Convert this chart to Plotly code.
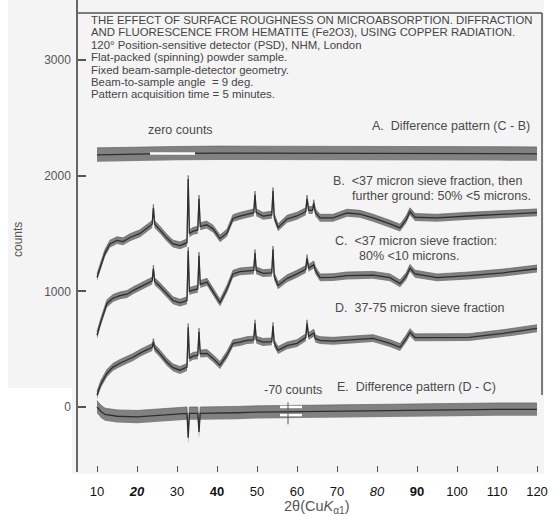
import plotly.graph_objects as go

# ---------------- data ----------------
a_theta = [10, 20, 30, 40, 50, 60, 70, 80, 90, 100, 110, 120]
a_counts = [2180, 2188, 2192, 2195, 2195, 2192, 2195, 2192, 2192, 2192, 2190, 2188]

b_theta = [10, 11, 12, 13.25, 15, 16.5, 18.25, 20.75, 23, 23.8, 24.1, 24.4, 25.5, 27.5, 29, 30.75,
           32.5, 32.8, 33.1, 34, 35.2, 35.5, 35.8, 37.4, 39, 40.75, 42.5, 44, 45.75, 47.5, 49.2, 49.5,
           49.8, 51.5, 53.7, 54, 54.3, 55.25, 57.5, 60, 62.2, 62.5, 62.9, 63.9, 64.2, 64.6, 65.75, 69,
           72.5, 75.75, 79, 83.25, 85.75, 87.3, 88.25, 89.5, 95, 103, 111.5, 120]
b_counts = [1120, 1230, 1330, 1410, 1440, 1430, 1465, 1500, 1560, 1580, 1720, 1580, 1540, 1460, 1410, 1395,
            1420, 1970, 1500, 1520, 1530, 1800, 1560, 1575, 1540, 1455, 1505, 1630, 1650, 1668, 1680, 1835,
            1680, 1650, 1660, 1866, 1640, 1550, 1625, 1651, 1690, 1800, 1700, 1700, 1760, 1680, 1634, 1634,
            1677, 1668, 1634, 1582, 1548, 1620, 1690, 1640, 1634, 1651, 1668, 1680]

c_theta = [10, 11, 12.5, 14, 15.75, 17.5, 19, 21, 23, 23.8, 24.1, 24.4, 25.5, 27.5, 29, 30.75,
           32.5, 32.8, 33.1, 34, 35.2, 35.5, 35.8, 37.5, 39, 40.75, 42.5, 44, 45.75, 47.5, 49.2, 49.5,
           49.8, 51.5, 53.7, 54, 54.3, 55.25, 57.5, 60, 62.2, 62.5, 62.9, 64.2, 64.6, 65.75, 69,
           72.5, 75.75, 79, 83.25, 85.75, 87.3, 88.25, 89.5, 95, 103, 111.5, 120]
c_counts = [620, 740, 895, 940, 963, 975, 1006, 1040, 1075, 1090, 1195, 1085, 1050, 980, 920, 900,
            920, 1350, 1000, 1010, 1020, 1307, 1060, 1080, 1000, 900, 1020, 1150, 1170, 1178, 1180, 1330,
            1180, 1155, 1160, 1360, 1130, 1050, 1110, 1150, 1190, 1285, 1200, 1230, 1180, 1118, 1120,
            1135, 1135, 1140, 1118, 1066, 1130, 1200, 1150, 1118, 1135, 1160, 1195]

d_theta = [10, 11, 12.5, 14, 15.75, 17.5, 19, 21, 23, 23.8, 24.1, 24.4, 25.5, 27.5, 29, 30.75,
           32.5, 32.8, 33.1, 34, 35.2, 35.5, 35.8, 37.5, 39, 40.75, 42.5, 44, 45.75, 47.5, 49.2, 49.5,
           49.8, 51.5, 53.7, 54, 54.3, 55.25, 57.5, 60, 62.2, 62.5, 62.9, 64.2, 64.6, 65.75, 69,
           72.5, 75.75, 79, 83.25, 85.75, 87.3, 88.25, 89.5, 95, 103, 111.5, 120]
d_counts = [103, 200, 292, 345, 378, 405, 430, 470, 505, 516, 560, 510, 470, 387, 340, 318,
            344, 690, 420, 440, 445, 650, 460, 464, 420, 361, 450, 550, 560, 576, 580, 722,
            580, 560, 565, 700, 550, 490, 530, 550, 600, 722, 610, 640, 590, 576, 570,
            576, 585, 593, 550, 516, 590, 645, 600, 602, 602, 636, 679]

e_theta = [10, 11, 12, 15, 20, 25, 30, 32.5, 32.8, 33.1, 35.2, 35.5, 35.8, 40, 45, 50, 60, 70, 80,
           90, 100, 110, 120]
e_counts = [0, -40, -65, -80, -85, -75, -60, -55, -265, -55, -55, -215, -55, -50, -50, -45, -40, -40,
            -35, -30, -25, -20, -20]

x_tick_vals = [10, 20, 30, 40, 50, 60, 70, 80, 90, 100, 110, 120]
x_tick_text = ["10", "<b><i>20</i></b>", "30", "<b>40</b>", "50", "60", "70", "<i>80</i>",
               "<b>90</b>", "100", "110", "120"]
y_tick_vals = [0, 1000, 2000, 3000]

zero_marker_theta = [23.25, 34.5]
zero_marker_counts = [2192, 2192]
minus70_marker_theta = [55.75, 61.25]
minus70_levels = [0, -70]

title_lines = [
    "THE EFFECT OF SURFACE ROUGHNESS ON MICROABSORPTION. DIFFRACTION",
    "AND FLUORESCENCE FROM HEMATITE (Fe2O3), USING COPPER RADIATION.",
    "120\u00b0 Position-sensitive detector (PSD), NHM, London",
    "Flat-packed (spinning) powder sample.",
    "Fixed beam-sample-detector geometry.",
    "Beam-to-sample angle  = 9 deg.",
    "Pattern acquisition time = 5 minutes.",
]

# ---------------- layout geometry ----------------
W, H = 554, 516
L, R, T, B = 78, 0, 0, 44
PW, PH = W - L - R, H - T - B


def px(x):
    return (x - L) / PW


def py(y):
    return (H - B - y) / PH


FONT = "Liberation Sans, Arial, sans-serif"
fig = go.Figure()

series = [
    (a_theta, a_counts, 60),
    (b_theta, b_counts, 32),
    (c_theta, c_counts, 32),
    (d_theta, d_counts, 32),
    (e_theta, e_counts, 55),
]
for th, ct, hw in series:
    fig.add_trace(go.Scatter(x=th, y=[v - hw for v in ct], mode="lines",
                             line=dict(width=0, color="rgba(0,0,0,0)"), hoverinfo="skip",
                             showlegend=False))
    fig.add_trace(go.Scatter(x=th, y=[v + hw for v in ct], mode="lines", fill="tonexty",
                             fillcolor="rgba(85,85,85,0.72)",
                             line=dict(width=0.8, color="rgba(90,90,90,0.8)"), hoverinfo="skip",
                             showlegend=False))
    fig.add_trace(go.Scatter(x=th, y=ct, mode="lines", line=dict(width=1.3, color="#2e2e2e"),
                             showlegend=False))

# white reference markers
fig.add_trace(go.Scatter(x=zero_marker_theta, y=zero_marker_counts, mode="lines",
                         line=dict(color="white", width=2.5), showlegend=False, hoverinfo="skip"))
for lev in minus70_levels:
    fig.add_trace(go.Scatter(x=minus70_marker_theta, y=[lev, lev], mode="lines",
                             line=dict(color="white", width=2.5), showlegend=False, hoverinfo="skip"))

shapes = [
    # scanned page background
    dict(type="rect", xref="paper", yref="paper", x0=px(8), x1=px(544), y0=py(474), y1=py(0),
         fillcolor="#f4f4f4", line=dict(width=0), layer="below"),
    dict(type="rect", xref="paper", yref="paper", x0=px(8), x1=px(72), y0=py(474), y1=py(388),
         fillcolor="white", line=dict(width=0), layer="below"),
    # frame of the text box
    dict(type="line", xref="paper", yref="paper", x0=px(78), x1=px(542), y0=py(13), y1=py(13),
         line=dict(color="#555", width=1.5)),
    dict(type="line", xref="paper", yref="paper", x0=px(542), x1=px(542), y0=py(13), y1=py(395),
         line=dict(color="#555", width=1.5)),
    # small vertical tick of -70 marker
    dict(type="line", xref="x", yref="y", x0=57.75, x1=57.75, y0=40, y1=-150,
         line=dict(color="#555", width=1)),
]

annotations = []
for i, line in enumerate(title_lines):
    annotations.append(dict(xref="paper", yref="paper", x=px(89), y=py(20 + i * 12.4),
                            xanchor="left", yanchor="middle", text=line, showarrow=False,
                            font=dict(family=FONT, size=11.4, color="#454545")))

labels = [
    (146, 130, "zero counts"),
    (370, 126, "A.  Difference pattern (C - B)"),
    (331, 181, "B.  &lt;37 micron sieve fraction, then"),
    (350, 196, "further ground: 50% &lt;5 microns."),
    (333, 241, "C.  &lt;37 micron sieve fraction:"),
    (357, 256, "80% &lt;10 microns."),
    (333, 308, "D.  37-75 micron sieve fraction"),
    (335, 387, "E.  Difference pattern (D - C)"),
    (262, 390, "-70 counts"),
]
for x, y, t in labels:
    annotations.append(dict(xref="paper", yref="paper", x=px(x), y=py(y), xanchor="left",
                            yanchor="middle", text=t, showarrow=False,
                            font=dict(family=FONT, size=12.5, color="#4a4a4a")))

annotations.append(dict(xref="paper", yref="paper", x=px(18), y=py(240), text="counts",
                        textangle=-90, showarrow=False, xanchor="center", yanchor="middle",
                        font=dict(family=FONT, size=12, color="#555")))
annotations.append(dict(xref="paper", yref="paper", x=px(317), y=py(507),
                        text="2\u03b8(Cu<i>K</i><sub>\u03b11</sub>)", showarrow=False,
                        xanchor="center", yanchor="middle",
                        font=dict(family=FONT, size=14.5, color="#555")))

fig.update_layout(
    width=W, height=H,
    margin=dict(l=L, r=R, t=T, b=B, pad=0),
    paper_bgcolor="white", plot_bgcolor="rgba(0,0,0,0)",
    shapes=shapes, annotations=annotations, showlegend=False,
    xaxis=dict(range=[5.25, 124.25], tickvals=x_tick_vals, ticktext=x_tick_text,
               ticks="inside", ticklen=6, tickcolor="#555", tickwidth=1.2,
               showgrid=False, zeroline=False, showline=False,
               tickfont=dict(family=FONT, size=13, color="#111"), ticklabelstandoff=10),
    yaxis=dict(range=[-562, 3518], tickvals=y_tick_vals, ticks="inside", ticklen=8,
               tickcolor="#555", tickwidth=1.5, showgrid=False, zeroline=False,
               showline=True, linecolor="#666", linewidth=1.5,
               tickfont=dict(family=FONT, size=12, color="#555"), ticklabelstandoff=3),
)

fig.write_html("out.html")
